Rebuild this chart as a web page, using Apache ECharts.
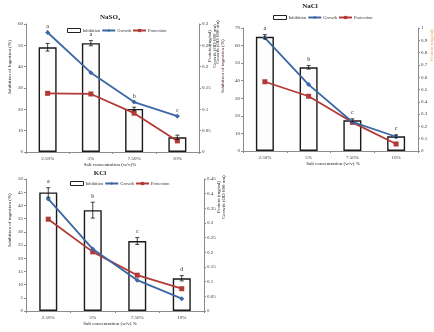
<!DOCTYPE html>
<html><head><meta charset="utf-8">
<script src="https://cdn.jsdelivr.net/npm/echarts@6/dist/echarts.min.js"></script>
<style>html,body{margin:0;padding:0;background:#fff}#c{width:434px;height:332px}</style>
</head><body><div id="c"></div>
<script>
const categories = ['2.50%', '5%', '7.50%', '10%'];

// NaSO4
const inhib1 = [49.1, 51, 20.2, 6.9];
const err1 = [1.8, 1.2, 0.8, 1.0];
const growth1 = [0.28, 0.186, 0.117, 0.084];
const prot1 = [0.1375, 0.136, 0.091, 0.026];
const letters1 = ['a', 'a', 'b', 'c'];

// NaCl
const inhib2 = [65, 47.6, 17.5, 8.4];
const err2 = [1.2, 1.0, 0.8, 0.8];
const growth2 = [0.92, 0.54, 0.236, 0.116];
const prot2 = [0.563, 0.445, 0.233, 0.057];
const letters2 = ['a', 'b', 'c', 'c'];

// KCl
const inhib3 = [44.9, 38.2, 26.5, 12.4];
const err3 = [1.8, 3.0, 1.3, 1.0];
const growth3 = [0.382, 0.211, 0.105, 0.042];
const prot3 = [0.313, 0.2016, 0.122, 0.076];
const letters3 = ['a', 'b', 'c', 'd'];

const panels = [
  {title: 'NaSO\u2084', inhib: inhib1, err: err1, growth: growth1, prot: prot1, letters: letters1,
   grid: {left: 26, top: 24, width: 173, height: 128}, lmax: 60, lint: 10, rmax: 0.3, rint: 0.05},
  {title: 'NaCl', inhib: inhib2, err: err2, growth: growth2, prot: prot2, letters: letters2,
   grid: {left: 243, top: 28, width: 175, height: 123}, lmax: 70, lint: 10, rmax: 1, rint: 0.1},
  {title: 'KCl', inhib: inhib3, err: err3, growth: growth3, prot: prot3, letters: letters3,
   grid: {left: 26, top: 179, width: 178, height: 132}, lmax: 50, lint: 5, rmax: 0.45, rint: 0.05}
];

const FONT = '"Liberation Serif", "DejaVu Serif", serif';
const BLUE = '#3b67a3';
const RED = '#b23a36';
const axisLine = {show: true, lineStyle: {color: '#8c8c8c', width: 1}};
const lab = {fontFamily: FONT, fontSize: 5, color: '#333', margin: 3};

const grids = [], xAxes = [], yAxes = [], series = [];
panels.forEach((p, i) => {
  grids.push(Object.assign({containLabel: false}, p.grid));
  xAxes.push({type: 'category', gridIndex: i, data: categories, axisLine: axisLine,
    axisTick: {show: true, length: 2, lineStyle: {color: '#8c8c8c'}},
    axisLabel: Object.assign({}, lab, {margin: 4})});
  yAxes.push({type: 'value', gridIndex: i, min: 0, max: p.lmax, interval: p.lint, position: 'left',
    axisLine: axisLine, axisTick: {show: true, length: 2, lineStyle: {color: '#8c8c8c'}},
    splitLine: {show: false}, axisLabel: lab});
  yAxes.push({type: 'value', gridIndex: i, min: 0, max: p.rmax, interval: p.rint, position: 'right',
    axisLine: axisLine, axisTick: {show: true, length: 2, lineStyle: {color: '#8c8c8c'}},
    splitLine: {show: false}, axisLabel: Object.assign({}, lab, {formatter: v => String(+v.toFixed(2))})});
  series.push({name: 'Inhibition', type: 'bar', xAxisIndex: i, yAxisIndex: 2 * i, data: p.inhib,
    barWidth: 18, itemStyle: {color: '#fdfdfd', borderColor: '#1a1a1a', borderWidth: 1.4}, z: 2});
  series.push({name: 'Growth', type: 'line', xAxisIndex: i, yAxisIndex: 2 * i + 1, data: p.growth,
    symbol: 'diamond', symbolSize: 5, lineStyle: {color: BLUE, width: 1.8},
    itemStyle: {color: BLUE}, z: 4});
  series.push({name: 'Protection', type: 'line', xAxisIndex: i, yAxisIndex: 2 * i + 1, data: p.prot,
    symbol: 'rect', symbolSize: 5, lineStyle: {color: RED, width: 1.8},
    itemStyle: {color: RED}, z: 3});
  series.push({type: 'custom', xAxisIndex: i, yAxisIndex: 2 * i, z: 5,
    data: p.inhib.map((v, k) => [k, v]),
    renderItem: function (params, api) {
      const k = params.dataIndex;
      const v = p.inhib[k], e = p.err[k];
      const top = api.coord([k, v + e]);
      const bot = api.coord([k, v - e]);
      const gy = api.coord([k, p.growth[k] / p.rmax * p.lmax])[1];
      const py = api.coord([k, p.prot[k] / p.rmax * p.lmax])[1];
      const ly = Math.min(top[1], gy, py) - 3;
      const x = top[0];
      return {type: 'group', children: [
        {type: 'line', shape: {x1: x, y1: top[1], x2: x, y2: bot[1]}, style: {stroke: '#111', lineWidth: 0.8}},
        {type: 'line', shape: {x1: x - 2, y1: top[1], x2: x + 2, y2: top[1]}, style: {stroke: '#111', lineWidth: 0.8}},
        {type: 'line', shape: {x1: x - 2, y1: bot[1], x2: x + 2, y2: bot[1]}, style: {stroke: '#111', lineWidth: 0.8}},
        {type: 'text', style: {x: x, y: ly, text: p.letters[k], textAlign: 'center', textVerticalAlign: 'bottom',
          font: '6px ' + FONT, fill: '#222'}}
      ]};
    }});
});

function vtext(x, y, text, color, size) {
  return {type: 'text', x: x, y: y, rotation: Math.PI / 2,
    style: {text: text, font: (size || 5) + 'px ' + FONT, fill: color || '#222', textAlign: 'center', textVerticalAlign: 'middle'}};
}
function htext(x, y, text, size, bold) {
  return {type: 'text', x: x, y: y,
    style: {text: text, font: (bold ? 'bold ' : '') + (size || 5) + 'px ' + FONT, fill: '#222', textAlign: 'center', textVerticalAlign: 'middle'}};
}

const legendBase = {itemWidth: 13, itemHeight: 4, itemGap: 1, padding: 0,
  textStyle: {fontFamily: FONT, fontSize: 4.5, color: '#333', padding: [0, 0, 0, -3]},
  data: [{name: 'Inhibition', icon: 'rect', itemStyle: {color: '#fff', borderColor: '#222', borderWidth: 1}},
         {name: 'Growth'}, {name: 'Protection'}]};

const option = {
  animation: false,
  backgroundColor: '#fff',
  grid: grids, xAxis: xAxes, yAxis: yAxes, series: series,
  legend: [
    Object.assign({}, legendBase, {left: 67, top: 28}),
    Object.assign({}, legendBase, {left: 273, top: 15}),
    Object.assign({}, legendBase, {left: 70, top: 181})
  ],
  graphic: [
    htext(110, 17, 'NaSO\u2084', 7, true),
    htext(310, 6, 'NaCl', 7, true),
    htext(100, 173, 'KCl', 7, true),
    htext(110, 165, 'Salt concentration (w/v)%', 5),
    htext(333, 164, 'Salt concentration (w/v) %', 5),
    htext(110, 324, 'Salt concentration (w/v) %', 5),
    vtext(10, 67, 'Inhibition of Ingestion (%)'),
    vtext(210, 46, 'Protein (mg/ml)'),
    vtext(215, 46, 'Growth (OD 600 nm)'),
    vtext(218, 42, 'Growth (OD 600 nm)'),
    vtext(223, 66, 'Inhibition of ingestion (%)', '#4a2020'),
    vtext(432, 45, 'Protein (mg/ml)', '#e3a857'),
    vtext(10, 220, 'Inhibition of ingestion (%)'),
    vtext(219, 197, 'Protein (mg/ml)'),
    vtext(224, 197, 'Growth (OD 600 nm)')
  ]
};
const chart = echarts.init(document.getElementById('c'), null, {renderer: 'canvas'});
chart.setOption(option);
</script></body></html>
